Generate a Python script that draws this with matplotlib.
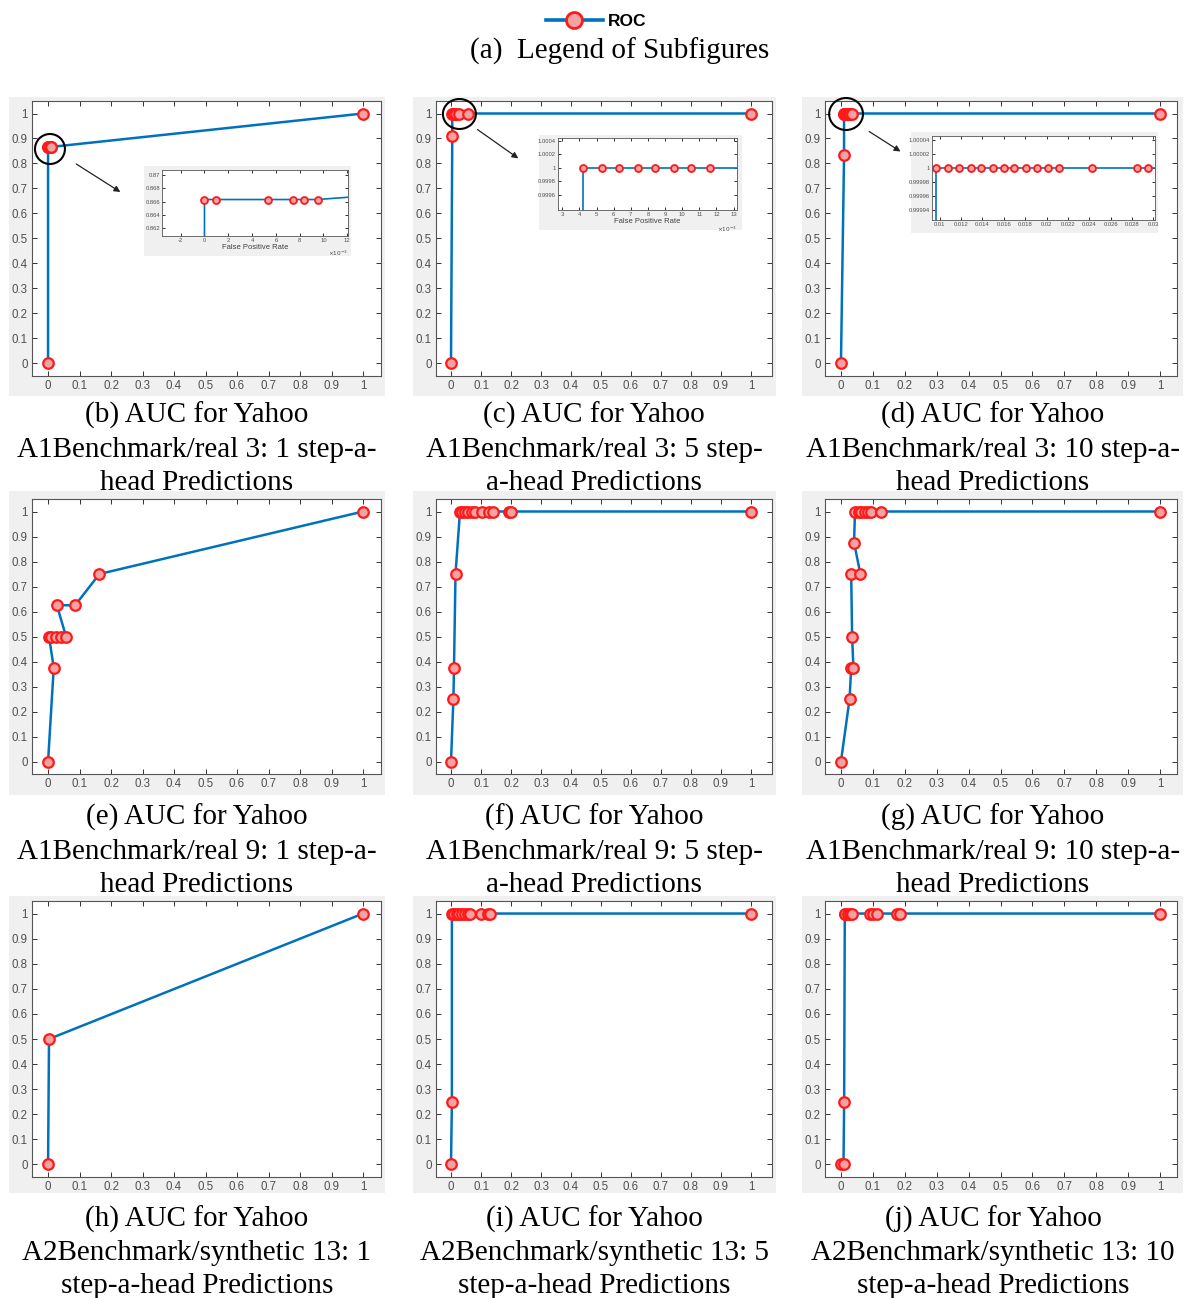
import numpy as np
import matplotlib.pyplot as plt
from matplotlib.patches import Ellipse
from matplotlib.lines import Line2D
from matplotlib.ticker import FuncFormatter

W, H = 1184, 1298
BLUE = '#0072BD'
FACE = '#f4a2a2'
EDGE = '#ff1a1a'
GREY = '#f0f0f0'
SERIF = 'Liberation Serif'
SANS = 'Liberation Sans'

# ROC points: false positive rate / true positive rate
# A1Benchmark/real 3
fpr_b = [0, 0, 0.0010, 0.0053, 0.0074, 0.0084, 0.0095, 1]
tpr_b = [0, 0.8663, 0.8663, 0.8663, 0.8663, 0.8663, 0.8663, 1]
fpr_c = [0, 0.0042, 0.0042, 0.0053, 0.0063, 0.0074, 0.0084, 0.0095, 0.0105, 0.0116, 0.016, 0.028, 0.055, 1]
tpr_c = [0, 0.9091, 1, 1, 1, 1, 1, 1, 1, 1, 1, 1, 1, 1]
fpr_d = [0, 0.0097, 0.0097, 0.0108, 0.0118, 0.0129, 0.0139, 0.0150, 0.0160, 0.0170,
         0.0181, 0.0191, 0.0201, 0.0212, 0.0243, 0.0285, 0.0295, 0.035, 1]
tpr_d = [0, 0.8333, 1, 1, 1, 1, 1, 1, 1, 1, 1, 1, 1, 1, 1, 1, 1, 1, 1]
# A1Benchmark/real 9
fpr_e = [0, 0.018, 0.003, 0.010, 0.024, 0.040, 0.057, 0.028, 0.086, 0.163, 1]
tpr_e = [0, 0.375, 0.5, 0.5, 0.5, 0.5, 0.5, 0.625, 0.625, 0.75, 1]
fpr_f = [0, 0.008, 0.010, 0.015, 0.030, 0.038, 0.047, 0.058, 0.069, 0.080, 0.102, 0.126, 0.140, 0.192, 0.201, 1]
tpr_f = [0, 0.25, 0.375, 0.75, 1, 1, 1, 1, 1, 1, 1, 1, 1, 1, 1, 1]
fpr_g = [0, 0.027, 0.032, 0.039, 0.035, 0.032, 0.061, 0.041, 0.044, 0.056, 0.064, 0.075, 0.086, 0.094, 0.126, 1]
tpr_g = [0, 0.25, 0.375, 0.375, 0.5, 0.75, 0.75, 0.875, 1, 1, 1, 1, 1, 1, 1, 1]
# A2Benchmark/synthetic 13
fpr_h = [0, 0.003, 1]
tpr_h = [0, 0.5, 1]
fpr_i = [0, 0.003, 0.003, 0.011, 0.019, 0.028, 0.037, 0.046, 0.056, 0.063, 0.100, 0.122, 0.130, 1]
tpr_i = [0, 0.25, 1, 1, 1, 1, 1, 1, 1, 1, 1, 1, 1, 1]
fpr_j = [0, 0.008, 0.010, 0.012, 0.014, 0.021, 0.029, 0.036, 0.092, 0.100, 0.113, 0.175, 0.185, 1]
tpr_j = [0, 0, 0.25, 1, 1, 1, 1, 1, 1, 1, 1, 1, 1, 1]

tick_vals = [0, 0.1, 0.2, 0.3, 0.4, 0.5, 0.6, 0.7, 0.8, 0.9, 1]
tick_labels = ['0', '0.1', '0.2', '0.3', '0.4', '0.5', '0.6', '0.7', '0.8', '0.9', '1']

captions = [
    ['(b) AUC for Yahoo', 'A1Benchmark/real 3: 1 step-a-', 'head Predictions'],
    ['(c) AUC for Yahoo', 'A1Benchmark/real 3: 5 step-', 'a-head Predictions'],
    ['(d) AUC for Yahoo', 'A1Benchmark/real 3: 10 step-a-', 'head Predictions'],
    ['(e) AUC for Yahoo', 'A1Benchmark/real 9: 1 step-a-', 'head Predictions'],
    ['(f) AUC for Yahoo', 'A1Benchmark/real 9: 5 step-', 'a-head Predictions'],
    ['(g) AUC for Yahoo', 'A1Benchmark/real 9: 10 step-a-', 'head Predictions'],
    ['(h) AUC for Yahoo', 'A2Benchmark/synthetic 13: 1', 'step-a-head Predictions'],
    ['(i) AUC for Yahoo', 'A2Benchmark/synthetic 13: 5', 'step-a-head Predictions'],
    ['(j) AUC for Yahoo', 'A2Benchmark/synthetic 13: 10', 'step-a-head Predictions'],
]
curves = [(fpr_b, tpr_b), (fpr_c, tpr_c), (fpr_d, tpr_d),
          (fpr_e, tpr_e), (fpr_f, tpr_f), (fpr_g, tpr_g),
          (fpr_h, tpr_h), (fpr_i, tpr_i), (fpr_j, tpr_j)]

# pixel layout of the 3x3 grid
cols_ax = [(32, 381), (436, 772), (825, 1177)]
cols_xlim = [(-0.051, 1.057), (-0.05, 1.07), (-0.05, 1.053)]
cols_bg = [(9, 385), (413, 776), (802, 1183)]
rows_ax = [(101, 376), (499, 774), (901, 1177)]
rows_bg = [(97, 396), (491, 795), (896, 1193)]
col_mid = [197, 594, 993]
row_base = [(423, 457, 490), (825, 859, 892), (1227, 1260, 1293)]

fig = plt.figure(figsize=(W / 100, H / 100), dpi=100)


def px_axes(x0, y0, x1, y1):
    return fig.add_axes([x0 / W, 1 - y1 / H, (x1 - x0) / W, (y1 - y0) / H])


def backdrop(x0, y0, x1, y1):
    bg = px_axes(x0, y0, x1, y1)
    bg.set_facecolor(GREY)
    bg.set_xticks([])
    bg.set_yticks([])
    for s in bg.spines.values():
        s.set_visible(False)
    return bg


def matlab_style(ax, size):
    big = size > 5
    ax.tick_params(direction='in', top=True, right=True, length=3.5 if big else 2,
                   width=0.7, color='#333333', labelcolor='#505050', labelsize=size,
                   pad=3 if big else 1.5)
    for s in ax.spines.values():
        s.set_color('#555555')
        s.set_linewidth(0.8 if big else 0.6)
    for lab in ax.get_xticklabels() + ax.get_yticklabels():
        lab.set_family(SANS)


def draw_roc(ax, fpr, tpr, ms=7.6, lw=1.8, mew=1.6):
    ax.plot(fpr, tpr, color=BLUE, lw=lw, marker='o', ms=ms, mfc=FACE, mec=EDGE, mew=mew)


main_axes = []
for k, (fpr, tpr) in enumerate(curves):
    r, c = divmod(k, 3)
    backdrop(cols_bg[c][0], rows_bg[r][0], cols_bg[c][1], rows_bg[r][1])
    ax = px_axes(cols_ax[c][0], rows_ax[r][0], cols_ax[c][1], rows_ax[r][1])
    draw_roc(ax, fpr, tpr)
    ax.set_xlim(*cols_xlim[c])
    ax.set_ylim(-0.05, 1.05)
    ax.set_xticks(tick_vals, tick_labels)
    ax.set_yticks(tick_vals, tick_labels)
    matlab_style(ax, 8.3)
    main_axes.append(ax)
    for line, base in zip(captions[k], row_base[r]):
        fig.text(col_mid[c] / W, 1 - base / H, line, ha='center', va='baseline',
                 fontsize=21, family=SERIF)

# zoom markers: circle around the clustered points plus an arrow to the inset
zooms = [
    (main_axes[0], (0.006, 0.858), 0.095, 0.12, (0.082, 0.804), (0.237, 0.68)),
    (main_axes[1], (0.028, 0.998), 0.11, 0.12, (0.081, 0.942), (0.232, 0.814)),
    (main_axes[2], (0.016, 0.998), 0.106, 0.128, (0.081, 0.934), (0.194, 0.842)),
]
for ax, centre, w, h, start, end in zooms:
    ax.add_patch(Ellipse(centre, w, h, fill=False, ec='black', lw=1.5, clip_on=False, zorder=5))
    ax.annotate('', xy=end, xytext=start,
                arrowprops=dict(arrowstyle='-|>', color='#222222', lw=0.9, mutation_scale=9))

milli = FuncFormatter(lambda v, p: f'{v * 1e3:g}')
plain = FuncFormatter(lambda v, p: f'{v:.6g}')

insets = [
    # curve, backdrop box, axes box, xlim, ylim, xticks, yticks, x formatter, has x label
    (fpr_b, tpr_b, (144, 166, 351, 256), (162, 170, 348, 236), (-0.00357, 0.01206), (0.86079, 0.87076),
     [-0.002, 0, 0.002, 0.004, 0.006, 0.008, 0.010, 0.012],
     [0.862, 0.864, 0.866, 0.868, 0.870], milli, True),
    (fpr_c, tpr_c, (539, 135, 742, 230), (558, 138, 737, 210), (0.00275, 0.0132), (0.99938, 1.00044),
     [0.003, 0.004, 0.005, 0.006, 0.007, 0.008, 0.009, 0.010, 0.011, 0.012, 0.013],
     [0.9996, 0.9998, 1.0, 1.0002, 1.0004], milli, True),
    (fpr_d, tpr_d, (911, 132, 1158, 233), (932, 136, 1155, 220), (0.00928, 0.03015), (0.999926, 1.000046),
     [0.010, 0.012, 0.014, 0.016, 0.018, 0.020, 0.022, 0.024, 0.026, 0.028, 0.030],
     [0.99994, 0.99996, 0.99998, 1.0, 1.00002, 1.00004], plain, False),
]
for fpr, tpr, bgb, axb, xl, yl, xt, yt, xfmt, labelled in insets:
    backdrop(*bgb)
    ia = px_axes(*axb)
    draw_roc(ia, fpr, tpr, ms=5, lw=1.2, mew=1.3)
    ia.set_xlim(*xl)
    ia.set_ylim(*yl)
    ia.set_xticks(xt)
    ia.set_yticks(yt)
    ia.xaxis.set_major_formatter(xfmt)
    ia.yaxis.set_major_formatter(plain)
    matlab_style(ia, 4.2)
    if labelled:
        ia.set_xlabel('False Positive Rate', fontsize=5.5, family=SANS, color='#404040', labelpad=1)
        ia.text(1.0, -0.2, r'$\times10^{-3}$', transform=ia.transAxes, ha='right', va='top',
                fontsize=4.2, color='#505050')

# shared legend on top
handle = Line2D([], [], color=BLUE, lw=2.6, marker='o', ms=11.5, mfc=FACE, mec=EDGE, mew=2)
fig.legend(handles=[handle], labels=['ROC'], loc='center', bbox_to_anchor=(596 / W, 1 - 21 / H),
           frameon=False, handlelength=3.3, handletextpad=0.3, borderpad=0,
           prop={'family': SANS, 'weight': 'bold', 'size': 12.5})
fig.text(620 / W, 1 - 59 / H, '(a)  Legend of Subfigures', ha='center', va='baseline',
         fontsize=21, family=SERIF)

fig.savefig('out.png', dpi=100, facecolor='white')
